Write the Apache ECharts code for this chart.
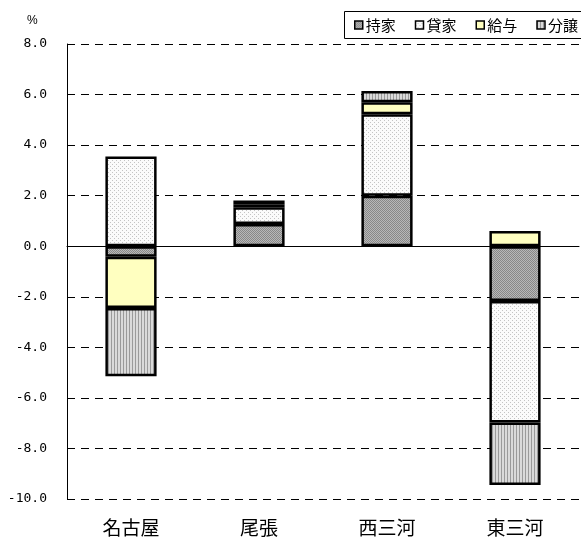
<!DOCTYPE html>
<html>
<head>
<meta charset="utf-8">
<style>
  html, body { margin: 0; padding: 0; background: #fff; }
  #chart { width: 581px; height: 537px; }
</style>
<script src="https://cdn.jsdelivr.net/npm/echarts@6/dist/echarts.min.js"></script>
</head>
<body>
<div id="chart"></div>
<script>
// Regions along the category axis
const regions = ['名古屋', '尾張', '西三河', '東三河'];

// Contribution of each housing type (percentage points)
const mochiie = [-0.42, 0.88, 2.0, -2.17];   // 持家
const kashiya = [3.55, 0.66, 3.22, -4.8];    // 貸家
const kyuyo   = [-2.02, 0.10, 0.48, 0.60];   // 給与
const bunjo   = [-2.70, 0.17, 0.44, -2.48];  // 分譲

const seriesNames = ['持家', '貸家', '給与', '分譲'];

// Y axis range and step
const yMin = -10, yMax = 8, yStep = 2;

// Small tiled fills for the bar segments
function makePattern(w, h, paint) {
  const c = document.createElement('canvas');
  c.width = w; c.height = h;
  const ctx = c.getContext('2d');
  paint(ctx);
  return { image: c, repeat: 'repeat' };
}
const fillMochiie = makePattern(2, 2, ctx => {
  ctx.fillStyle = '#b8b8b8'; ctx.fillRect(0, 0, 2, 2);
  ctx.fillStyle = '#888888'; ctx.fillRect(0, 0, 1, 1); ctx.fillRect(1, 1, 1, 1);
});
const fillKashiya = makePattern(4, 4, ctx => {
  ctx.fillStyle = '#fbfbfb'; ctx.fillRect(0, 0, 4, 4);
  ctx.fillStyle = '#c4c4c4'; ctx.fillRect(0, 0, 1, 1); ctx.fillRect(2, 2, 1, 1);
});
const fillKyuyo = '#ffffc0';
const fillBunjo = makePattern(3, 1, ctx => {
  ctx.fillStyle = '#dadada'; ctx.fillRect(0, 0, 3, 1);
  ctx.fillStyle = '#9a9a9a'; ctx.fillRect(0, 0, 1, 1);
});
const fills = [fillMochiie, fillKashiya, fillKyuyo, fillBunjo];
const values = [mochiie, kashiya, kyuyo, bunjo];

const chart = echarts.init(document.getElementById('chart'), null, { renderer: 'canvas' });

const series = seriesNames.map((name, i) => ({
  name: name,
  type: 'bar',
  stack: 'total',
  barWidth: '40%',
  xAxisIndex: 0,
  data: values[i],
  itemStyle: { color: fills[i], borderColor: '#000', borderWidth: 2.5 },
  emphasis: { disabled: true }
}));

chart.setOption({
  animation: false,
  grid: { left: 67, right: 2, top: 44, bottom: 38 },
  legend: {
    data: seriesNames,
    left: 354,
    top: 17,
    width: 400,
    padding: 0,
    itemWidth: 8,
    itemHeight: 8,
    itemGap: 19,
    icon: 'rect',
    itemStyle: { borderColor: '#000', borderWidth: 1.5 },
    textStyle: { fontFamily: 'Noto Sans CJK JP', fontSize: 15, color: '#000', lineHeight: 16, padding: [0, 0, 0, -2] },
    selectedMode: false
  },
  graphic: [
    {
      type: 'rect',
      shape: { x: 344.5, y: 11.5, width: 260, height: 27 },
      style: { fill: 'none', stroke: '#000', lineWidth: 1 },
      z: 10
    },
    {
      type: 'text',
      left: 27, top: 15,
      style: { text: '%', font: '12px "Liberation Sans"', fill: '#000' }
    }
  ],
  xAxis: [
    {
      type: 'category',
      data: regions,
      position: 'bottom',
      axisLine: { show: false, onZero: false },
      axisTick: { show: false },
      axisLabel: { fontFamily: 'Noto Sans CJK JP', fontSize: 19, color: '#000', margin: 19 }
    },
    {
      type: 'category',
      data: regions,
      axisLine: { show: true, onZero: true, lineStyle: { color: '#000', width: 1 } },
      axisTick: { show: false },
      axisLabel: { show: false }
    }
  ],
  yAxis: {
    type: 'value',
    min: yMin, max: yMax, interval: yStep,
    axisLine: { show: true, lineStyle: { color: '#000', width: 1 } },
    axisTick: { show: false },
    splitLine: { show: true, lineStyle: { color: '#000', width: 1, type: [8, 6] } },
    axisLabel: {
      margin: 20,
      fontFamily: 'DejaVu Sans Mono', fontSize: 13, color: '#000',
      formatter: v => v.toFixed(1)
    }
  },
  series: series
});
</script>
</body>
</html>
